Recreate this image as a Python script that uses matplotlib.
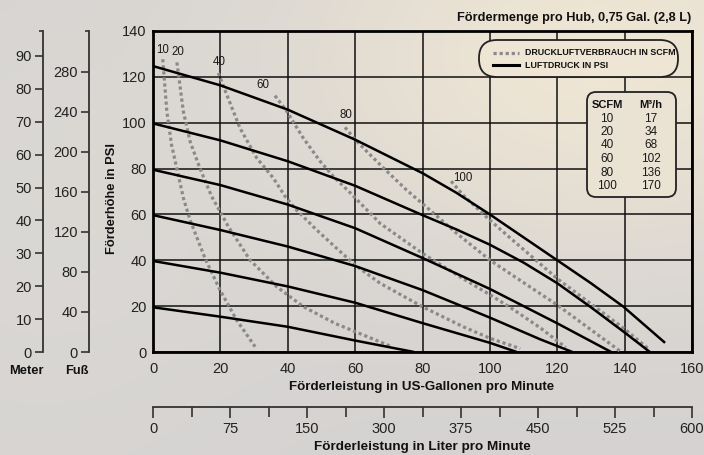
import numpy as np
import matplotlib
matplotlib.use('Agg')
import matplotlib.pyplot as plt
from matplotlib.patches import FancyBboxPatch
from matplotlib.lines import Line2D

# ---------------- data ----------------
gpm_ticks = [0, 20, 40, 60, 80, 100, 120, 140, 160]
psi_ticks = [0, 20, 40, 60, 80, 100, 120, 140]
meter_ticks = [0, 10, 20, 30, 40, 50, 60, 70, 80, 90]
feet_ticks = [0, 40, 80, 120, 160, 200, 240, 280]
liter_labels = ['0', '75', '150', '300', '375', '450', '525', '600']

# solid lines: air pressure (psi) curves
p125_x = [0, 20, 40, 60, 80, 90, 100, 110, 120, 130, 139.6, 152]
p125_y = [124.7, 116.3, 105.7, 92.6, 78, 69.5, 60, 50, 40, 30, 19.8, 4]
p100_x = [0, 20, 40, 60, 80, 90, 100, 110, 120, 130, 140, 147.5]
p100_y = [99.7, 92.3, 83.2, 72.5, 59.7, 53.5, 46.8, 39, 30, 19.5, 8.5, 0]
p80_x = [0, 20, 40, 60, 80, 100, 120, 136]
p80_y = [79.5, 72.8, 64.3, 54, 41, 27.5, 12.5, 0]
p60_x = [0, 20, 40, 60, 80, 100, 115, 124.5]
p60_y = [59.7, 53.2, 46, 37.5, 27, 15, 5.5, 0]
p40_x = [0, 20, 40, 60, 80, 100, 108]
p40_y = [39.7, 34.6, 28.6, 21.5, 12.6, 4, 0]
p20_x = [0, 20, 40, 60, 77.5]
p20_y = [19.5, 15.4, 11, 5, 0]

# dotted lines: air consumption (scfm) curves
s10_x = [2.9, 4.1, 5.5, 7.5, 9, 11, 15.4, 19.9, 24.8, 30.3]
s10_y = [127.7, 105, 90.4, 77.3, 67.2, 57.6, 41, 27, 14, 2.3]
s20_x = [7.1, 9, 11, 13.9, 17.4, 22.4, 28.8, 36.7, 44.6, 54, 60, 70.5]
s20_y = [126.3, 105, 91.9, 80.2, 67.9, 54.6, 40.1, 28.5, 19.8, 12.5, 8.9, 2.5]
s40_x = [19.4, 21.9, 25.8, 30.8, 35.7, 39.2, 42.6, 48.6, 54, 60, 67.4, 79.9, 92.1, 100, 109]
s40_y = [121.7, 112.2, 97.7, 84.6, 75.9, 67.9, 61.9, 53.2, 45.9, 37.9, 30, 19.8, 11, 6, 1.5]
s60_x = [36.2, 39.7, 44.6, 49.6, 53.5, 58.5, 67.4, 80, 92, 100, 107, 115, 122.5]
s60_y = [111.8, 105, 93.3, 83.2, 76.6, 69.5, 56.1, 43, 32, 25, 18.5, 10.5, 2]
s80_x = [57, 60, 67.4, 75.3, 82.2, 90.1, 100, 107.4, 120, 139]
s80_y = [98, 92.6, 81.7, 70.6, 61.9, 51.8, 40.1, 32.8, 20.5, 0]
s100_x = [88.5, 92, 100, 107, 120, 130, 140, 147]
s100_y = [74.5, 68.5, 57.5, 48.5, 32, 21, 10, 1.5]

scfm_names = ['10', '20', '40', '60', '80', '100']
scfm_label_x = [2.8, 7.3, 19.7, 32.7, 57.2, 92.1]
scfm_label_y = [131.8, 130.7, 126.3, 116.6, 103.5, 75.9]

table_scfm = ['10', '20', '40', '60', '80', '100']
table_m3h = ['17', '34', '68', '102', '136', '170']

# ---------------- style ----------------
plt.rcParams['font.family'] = ['Liberation Sans', 'DejaVu Sans']

W, H = 704, 455
fig = plt.figure(figsize=(W / 100, H / 100), dpi=100)

def fx(px):
    return px / W

def fy(py):
    return 1 - py / H

# background gradient
bg_ax = fig.add_axes([0, 0, 1, 1], zorder=-10)
u = np.linspace(0, 1, W)[None, :]
v = np.linspace(0, 1, H)[:, None]
gray = np.array([0.835, 0.825, 0.822])
cream = np.array([0.935, 0.90, 0.83])
lgray = np.array([0.865, 0.855, 0.835])
w1 = np.exp(-(((u - 0.85) / 0.45) ** 2 + ((v - 0.12) / 0.45) ** 2))
w2 = np.exp(-(((u - 0.05) / 0.35) ** 2 + ((v - 0.5) / 0.6) ** 2)) * 0.6
img = gray[None, None, :] * (1 - w1[..., None] - w2[..., None] * (1 - w1[..., None]))
img = img + cream[None, None, :] * w1[..., None] + lgray[None, None, :] * (w2 * (1 - w1))[..., None]
img = np.clip(img, 0, 1)
bg_ax.imshow(img, aspect='auto', extent=[0, W, H, 0])
bg_ax.set_xlim(0, W)
bg_ax.set_ylim(H, 0)
bg_ax.axis('off')

def bgcol(px, py):
    return tuple(img[int(py), int(px)])

# ---------------- main axes ----------------
L, T, R, B = 153, 31, 692, 352
ax = fig.add_axes([fx(L), fy(B), (R - L) / W, (B - T) / H])
ax.patch.set_alpha(0)
ax.set_xlim(0, 160)
ax.set_ylim(0, 140)
ax.set_xticks(gpm_ticks)
ax.set_yticks(psi_ticks)
ax.grid(True, color='#111111', lw=1.1, zorder=1)
ax.set_axisbelow(True)
ax.tick_params(length=0, labelsize=10.5, colors='#222222')
ax.tick_params(axis='x', pad=7)
ax.tick_params(axis='y', pad=4.5)
for sp in ax.spines.values():
    sp.set_linewidth(2)
    sp.set_color('black')

solid_x = [p125_x, p100_x, p80_x, p60_x, p40_x, p20_x]
solid_y = [p125_y, p100_y, p80_y, p60_y, p40_y, p20_y]
for xs, ys in zip(solid_x, solid_y):
    ax.plot(xs, ys, color='black', lw=1.8, zorder=4, solid_capstyle='butt',
            solid_joinstyle='round')

dot_x = [s10_x, s20_x, s40_x, s60_x, s80_x, s100_x]
dot_y = [s10_y, s20_y, s40_y, s60_y, s80_y, s100_y]
DOT = (0, (1.0, 0.9))
for xs, ys in zip(dot_x, dot_y):
    ax.plot(xs, ys, color='#8a8a8a', lw=2.3, linestyle=DOT, zorder=3,
            dash_capstyle='butt')

for name, lx, ly in zip(scfm_names, scfm_label_x, scfm_label_y):
    ax.text(lx, ly, name, fontsize=8.3, ha='center', va='center',
            color='#1a1a1a', zorder=6)

# ---------------- meter & feet axes ----------------
def side_axis(xpix, ticks, top):
    a = fig.add_axes([fx(xpix), fy(B), 0.0001, (B - T) / H])
    a.patch.set_alpha(0)
    a.set_ylim(0, top)
    a.set_xticks([])
    a.set_yticks(ticks)
    a.set_yticks([top], minor=True)
    a.set_yticklabels([], minor=True)
    for k in ['top', 'right', 'bottom']:
        a.spines[k].set_visible(False)
    a.spines['left'].set_linewidth(1.3)
    a.spines['left'].set_color('#333333')
    a.tick_params(axis='y', which='major', direction='out', length=6,
                  width=1.2, color='#333333', labelsize=10.5,
                  labelcolor='#222222', pad=2)
    a.tick_params(axis='y', which='minor', direction='out', length=3,
                  width=1.2, color='#333333')
    return a

side_axis(43, meter_ticks, 97.6)
side_axis(89, feet_ticks, 320.7)

# ---------------- liter axis ----------------
la = fig.add_axes([fx(L), fy(407), (R - L) / W, 0.0001])
la.patch.set_alpha(0)
la.set_xlim(0, len(liter_labels) - 1)
la.set_xticks(range(len(liter_labels)))
la.set_xticklabels(liter_labels)
la.set_xticks(np.arange(0.5, len(liter_labels) - 1, 1.0), minor=True)
la.set_yticks([])
for k in ['top', 'left', 'right']:
    la.spines[k].set_visible(False)
la.spines['bottom'].set_linewidth(1.3)
la.spines['bottom'].set_color('#333333')
la.tick_params(axis='x', which='both', direction='out', length=8, width=1.2,
               color='#333333', labelsize=10.5, labelcolor='#222222', pad=3)
la.tick_params(axis='x', which='minor', length=7)

# ---------------- overlay (pixel coordinates) ----------------
ov = fig.add_axes([0, 0, 1, 1], zorder=20)
ov.set_xlim(0, W)
ov.set_ylim(H, 0)
ov.axis('off')
ov.patch.set_alpha(0)

ov.text(691, 18, 'Fördermenge pro Hub, 0,75 Gal. (2,8 L)', fontsize=9.2,
        fontweight='bold', ha='right', va='center', color='#111111')
ov.text(422, 387, 'Förderleistung in US-Gallonen pro Minute', fontsize=9.6,
        fontweight='bold', ha='center', va='center', color='#111111')
ov.text(422, 447, 'Förderleistung in Liter pro Minute', fontsize=9.7,
        fontweight='bold', ha='center', va='center', color='#111111')
ov.text(112, 198, 'Förderhöhe in PSI', fontsize=9.3, fontweight='bold',
        rotation=90, ha='center', va='center', color='#111111')
ov.text(26, 371, 'Meter', fontsize=9.3, fontweight='bold', ha='center',
        va='center', color='#111111')
ov.text(77, 371, 'Fuß', fontsize=9.3, fontweight='bold', ha='center',
        va='center', color='#111111')

# legend box
lg = FancyBboxPatch((479, 40), 199, 37,
                    boxstyle='round,pad=0,rounding_size=18',
                    fc=bgcol(578, 58), ec='#222222', lw=1.3)
ov.add_patch(lg)
ov.add_line(Line2D([493, 519], [52.7, 52.7], color='#8a8a8a', lw=2.3,
                   linestyle=DOT))
ov.add_line(Line2D([493, 519], [65, 65], color='black', lw=2.2))
ov.text(525, 52.7, 'DRUCKLUFTVERBRAUCH IN SCFM', fontsize=6.4,
        fontweight='bold', ha='left', va='center', color='#111111')
ov.text(525, 65.5, 'LUFTDRUCK IN PSI', fontsize=6.4, fontweight='bold',
        ha='left', va='center', color='#111111')

# table box
tb = FancyBboxPatch((587, 92), 89, 105,
                    boxstyle='round,pad=0,rounding_size=9',
                    fc=bgcol(630, 145), ec='#222222', lw=1.3)
ov.add_patch(tb)
ov.text(607, 105, 'SCFM', fontsize=8, fontweight='bold', ha='center',
        va='center', color='#111111')
ov.text(651, 105, 'M³/h', fontsize=8, fontweight='bold', ha='center',
        va='center', color='#111111')
row_y0, row_dy = 118.5, 13.5
for i, (a, b) in enumerate(zip(table_scfm, table_m3h)):
    yy = row_y0 + i * row_dy
    ov.text(607, yy, a, fontsize=8.5, ha='center', va='center', color='#1a1a1a')
    ov.text(651, yy, b, fontsize=8.5, ha='center', va='center', color='#1a1a1a')

fig.savefig('out.png', dpi=100)
